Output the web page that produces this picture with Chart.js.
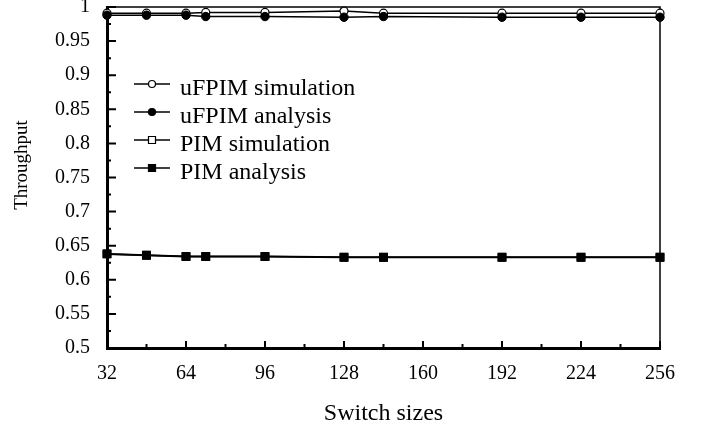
<!DOCTYPE html>
<html>
<head>
<meta charset="utf-8">
<title>Throughput vs switch sizes</title>
<script src="https://cdn.jsdelivr.net/npm/chart.js@4"></script>
<style>
  html, body { margin: 0; padding: 0; background: #fff; }
  canvas { display: block; }
</style>
</head>
<body>
<canvas id="throughputChart" width="704" height="430"></canvas>
<script>
// Switch sizes on the x-axis
const switchSizes = [32, 48, 64, 72, 96, 128, 144, 192, 224, 256];

// Throughput per scheme
const ufpimSimulation = [0.991, 0.991, 0.991, 0.992, 0.992, 0.994, 0.991, 0.991, 0.991, 0.991];
const ufpimAnalysis   = [0.988, 0.988, 0.988, 0.986, 0.986, 0.985, 0.986, 0.985, 0.985, 0.985];
const pimSimulation   = [0.638, 0.636, 0.634, 0.634, 0.634, 0.633, 0.633, 0.633, 0.633, 0.633];
const pimAnalysis     = [0.638, 0.636, 0.634, 0.634, 0.634, 0.633, 0.633, 0.633, 0.633, 0.633];

// Axis ticks
const xTicks = [32, 64, 96, 128, 160, 192, 224, 256];
const yTicks = [0.5, 0.55, 0.6, 0.65, 0.7, 0.75, 0.8, 0.85, 0.9, 0.95, 1];

const SERIF = '"Liberation Serif", "Times New Roman", Times, serif';

/**
 * Pair x and y arrays into {x, y} points
 */
function toPoints(ys) {
  return switchSizes.map((x, i) => ({ x: x, y: ys[i] }));
}

/**
 * Inward major/minor tick marks plus the thin top and right frame lines
 */
const frameTicks = {
  id: 'frameTicks',
  beforeDatasetsDraw(chart) {
    const { ctx, chartArea } = chart;
    const xs = chart.scales.x;
    const ys = chart.scales.y;
    ctx.save();
    ctx.strokeStyle = '#000';

    // top and right border
    ctx.lineWidth = 1.5;
    ctx.beginPath();
    ctx.moveTo(chartArea.left, chartArea.top);
    ctx.lineTo(chartArea.right, chartArea.top);
    ctx.lineTo(chartArea.right, chartArea.bottom);
    ctx.stroke();

    ctx.lineWidth = 2;
    ctx.beginPath();
    // y ticks, pointing right into the plot
    yTicks.forEach((v, i) => {
      const py = ys.getPixelForValue(v);
      ctx.moveTo(chartArea.left, py);
      ctx.lineTo(chartArea.left + 9, py);
      if (i < yTicks.length - 1) {
        const my = ys.getPixelForValue((v + yTicks[i + 1]) / 2);
        ctx.moveTo(chartArea.left, my);
        ctx.lineTo(chartArea.left + 4, my);
      }
    });
    // x ticks, pointing up into the plot
    xTicks.forEach((v, i) => {
      const px = xs.getPixelForValue(v);
      ctx.moveTo(px, chartArea.bottom);
      ctx.lineTo(px, chartArea.bottom - 7);
      if (i < xTicks.length - 1) {
        const mx = xs.getPixelForValue((v + xTicks[i + 1]) / 2);
        ctx.moveTo(mx, chartArea.bottom);
        ctx.lineTo(mx, chartArea.bottom - 4);
      }
    });
    ctx.stroke();
    ctx.restore();
  }
};

/**
 * Rotated y-axis caption, sitting a little above the plot's middle
 */
const yCaption = {
  id: 'yCaption',
  afterDraw(chart, args, opts) {
    const { ctx } = chart;
    ctx.save();
    ctx.translate(opts.x, opts.y);
    ctx.rotate(-Math.PI / 2);
    ctx.font = opts.font;
    ctx.fillStyle = '#000';
    ctx.textAlign = 'center';
    ctx.textBaseline = 'middle';
    ctx.fillText(opts.text, 0, 0);
    ctx.restore();
  }
};

/**
 * Legend drawn inside the plot: line sample with marker, then the label
 */
const insideLegend = {
  id: 'insideLegend',
  afterDatasetsDraw(chart, args, opts) {
    const { ctx } = chart;
    ctx.save();
    ctx.font = opts.font;
    ctx.fillStyle = '#000';
    ctx.textBaseline = 'alphabetic';
    chart.data.datasets.forEach((ds, i) => {
      const y = opts.top + i * opts.rowHeight;
      const x0 = opts.left;
      const x1 = opts.left + opts.sampleWidth;
      const cx = (x0 + x1) / 2;

      ctx.strokeStyle = ds.borderColor;
      ctx.lineWidth = 1.5;
      ctx.beginPath();
      ctx.moveTo(x0, y);
      ctx.lineTo(x1, y);
      ctx.stroke();

      ctx.fillStyle = ds.pointBackgroundColor;
      ctx.lineWidth = 1.2;
      ctx.beginPath();
      if (ds.pointStyle === 'rect') {
        ctx.rect(cx - 3.5, y - 3.5, 7, 7);
      } else {
        ctx.arc(cx, y, 3.5, 0, Math.PI * 2);
      }
      ctx.fill();
      ctx.stroke();

      ctx.fillStyle = '#000';
      ctx.fillText(ds.label, x1 + 10, y + 11);
    });
    ctx.restore();
  }
};

const ctx = document.getElementById('throughputChart').getContext('2d');

new Chart(ctx, {
  type: 'line',
  data: {
    datasets: [
      {
        label: 'uFPIM simulation',
        data: toPoints(ufpimSimulation),
        borderColor: '#000',
        borderWidth: 1.5,
        pointStyle: 'circle',
        pointRadius: 4,
        pointBorderWidth: 1.2,
        pointBackgroundColor: '#fff',
        order: 4
      },
      {
        label: 'uFPIM analysis',
        data: toPoints(ufpimAnalysis),
        borderColor: '#000',
        borderWidth: 1.5,
        pointStyle: 'circle',
        pointRadius: 4.2,
        pointBorderWidth: 1,
        pointBackgroundColor: '#000',
        order: 3
      },
      {
        label: 'PIM simulation',
        data: toPoints(pimSimulation),
        borderColor: '#000',
        borderWidth: 1.5,
        pointStyle: 'rect',
        pointRadius: 5.5,
        pointBorderWidth: 1.2,
        pointBackgroundColor: '#fff',
        order: 2
      },
      {
        label: 'PIM analysis',
        data: toPoints(pimAnalysis),
        borderColor: '#000',
        borderWidth: 2,
        pointStyle: 'rect',
        pointRadius: 5.5,
        pointBorderWidth: 1,
        pointBackgroundColor: '#000',
        order: 1
      }
    ]
  },
  options: {
    responsive: false,
    animation: false,
    clip: false,
    layout: {
      padding: { top: 7, right: 44, bottom: 0, left: 0 }
    },
    elements: {
      line: { tension: 0 }
    },
    scales: {
      x: {
        type: 'linear',
        min: 32,
        max: 256,
        grid: { display: false, drawTicks: false },
        border: { display: true, color: '#000', width: 3 },
        ticks: {
          stepSize: 32,
          padding: 14,
          color: '#000',
          font: { family: SERIF, size: 20 },
          maxRotation: 0
        },
        title: {
          display: true,
          text: 'Switch sizes',
          color: '#000',
          font: { family: SERIF, size: 24 },
          padding: { top: 0, bottom: 2 }
        },
        afterFit(scale) {
          scale.height = 82;
          scale.paddingLeft = 0;
          scale.paddingRight = 0;
        }
      },
      y: {
        type: 'linear',
        min: 0.5,
        max: 1,
        grid: { display: false, drawTicks: false },
        border: { display: true, color: '#000', width: 3 },
        ticks: {
          stepSize: 0.05,
          padding: 17,
          color: '#000',
          font: { family: SERIF, size: 20 },
          callback: (v) => String(Math.round(v * 100) / 100)
        },
        afterFit(scale) {
          scale.width = 107;
          scale.paddingTop = 0;
          scale.paddingBottom = 0;
        }
      }
    },
    plugins: {
      legend: { display: false },
      tooltip: { enabled: false },
      yCaption: {
        text: 'Throughput',
        x: 22,
        y: 165,
        font: '19px ' + SERIF
      },
      insideLegend: {
        left: 134,
        top: 84,
        rowHeight: 28,
        sampleWidth: 36,
        font: '24px ' + SERIF
      }
    }
  },
  plugins: [frameTicks, insideLegend, yCaption]
});
</script>
</body>
</html>
